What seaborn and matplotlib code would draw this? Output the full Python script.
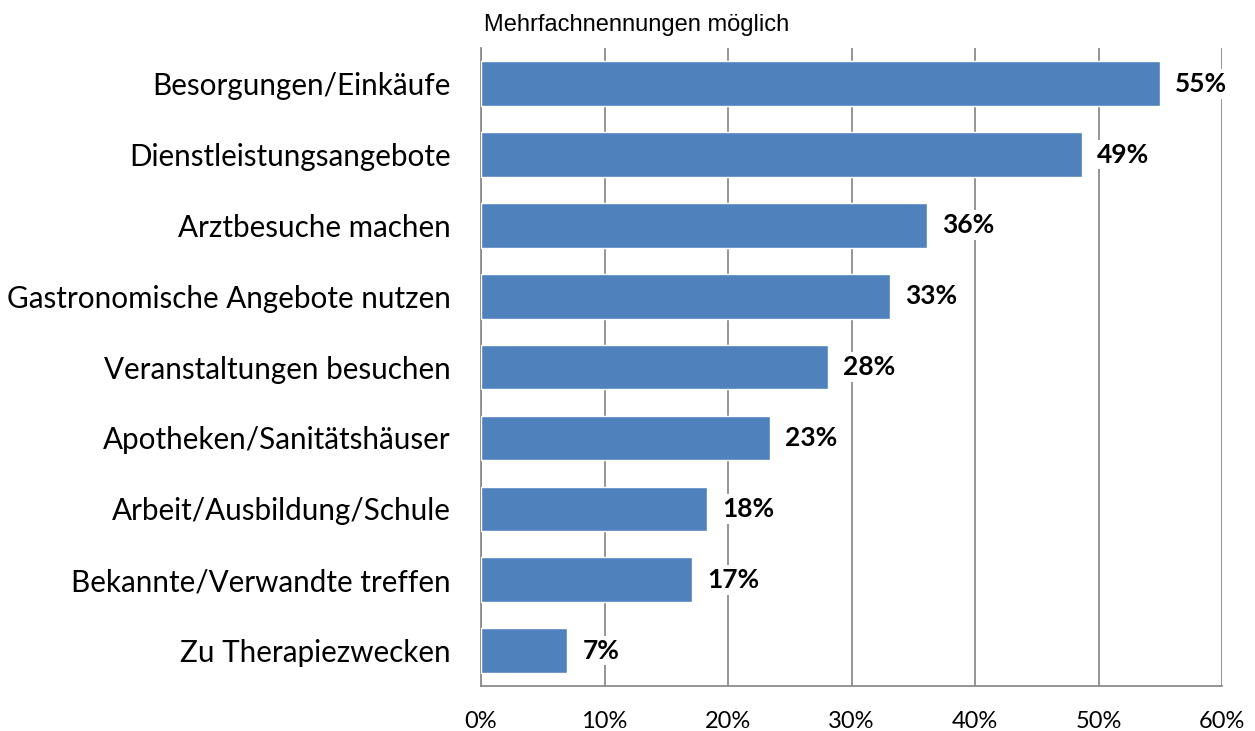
import numpy as np
import pandas as pd
import seaborn as sns
import matplotlib.pyplot as plt
from matplotlib.ticker import FixedLocator, PercentFormatter

kategorien = ['Besorgungen/Einkäufe', 'Dienstleistungsangebote', 'Arztbesuche machen',
              'Gastronomische Angebote nutzen', 'Veranstaltungen besuchen',
              'Apotheken/Sanitätshäuser', 'Arbeit/Ausbildung/Schule',
              'Bekannte/Verwandte treffen', 'Zu Therapiezwecken']
werte = [55.0, 48.7, 36.1, 33.1, 28.1, 23.4, 18.3, 17.1, 7.0]
beschriftung = ['55%', '49%', '36%', '33%', '28%', '23%', '18%', '17%', '7%']

df = pd.DataFrame({'kategorie': kategorien, 'wert': werte})

sns.set_style('white')
plt.rcParams['font.family'] = ['Lato', 'DejaVu Sans']

fig = plt.figure(figsize=(12.55, 7.31), dpi=100)
ax = fig.add_axes([0.3833, 0.0616, 0.5904, 0.8724])

sns.barplot(data=df, x='wert', y='kategorie', orient='h', color='#4F81BD',
            saturation=1, width=0.63, ax=ax, zorder=3)

ax.set_xlim(0, 60)
ax.set_ylim(len(kategorien) - 0.5, -0.5)
ax.set_xticks(np.arange(0, 61, 10))
ax.xaxis.set_major_formatter(PercentFormatter(decimals=0))
ax.grid(axis='x', color='#8c8c8c', linewidth=1.3, zorder=0)
ax.set_axisbelow(True)

for s in ['top', 'right']:
    ax.spines[s].set_visible(False)
for s in ['left', 'bottom']:
    ax.spines[s].set_color('#8c8c8c')
    ax.spines[s].set_linewidth(1.3)

ax.tick_params(axis='y', which='major', length=0, pad=22, labelsize=21.3, labelcolor='black')
ax.yaxis.set_minor_locator(FixedLocator(np.arange(-0.5, len(kategorien), 1)))
ax.tick_params(axis='y', which='minor', length=7, width=1.3, color='#8c8c8c', direction='out')
ax.tick_params(axis='x', which='major', length=7, width=1.3, color='#8c8c8c',
               direction='out', pad=11, labelsize=17, labelcolor='black')
ax.set_xlabel('')
ax.set_ylabel('')

for i, (w, txt) in enumerate(zip(werte, beschriftung)):
    ax.text(w + 1.2, i, txt, va='center', ha='left', fontsize=19, fontweight='bold',
            color='black', bbox=dict(facecolor='white', edgecolor='none', pad=2), zorder=4)

fig.text(0.3857, 0.966, 'Mehrfachnennungen möglich', fontsize=17,
         family=['Liberation Sans', 'DejaVu Sans'], color='black', va='center', ha='left')

fig.savefig('out.png', dpi=100)
